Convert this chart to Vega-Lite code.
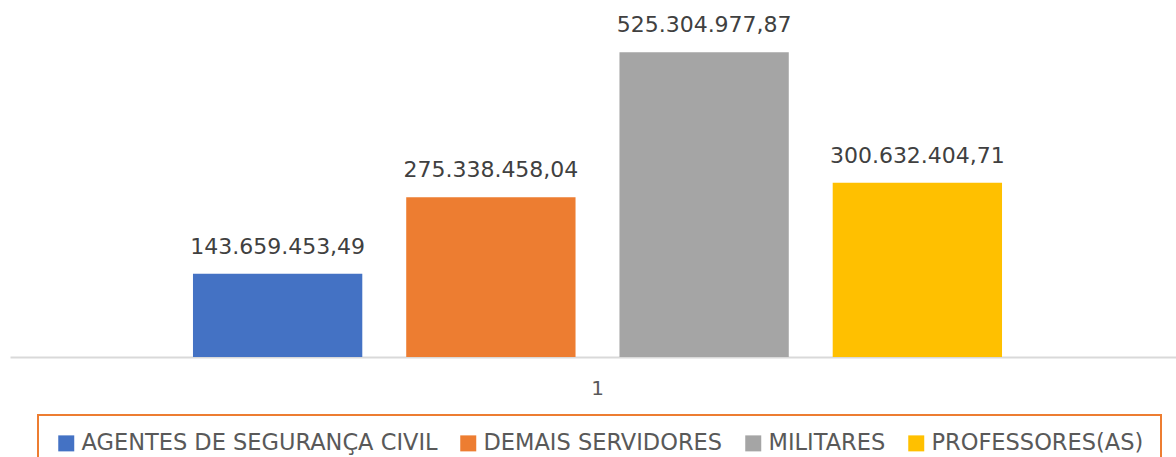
{
  "$schema": "https://vega.github.io/schema/vega-lite/v6.json",
  "autosize": {"type": "none"},
  "width": 1166,
  "height": 348,
  "padding": {"left": 10, "top": 9, "right": 0, "bottom": 100},
  "background": "#ffffff",
  "config": {
    "view": {"stroke": null},
    "font": "DejaVu Sans",
    "locale": {"number": {"decimal": ",", "thousands": ".", "grouping": [3], "currency": ["R$ ", ""]}}
  },
  "data": {
    "values": [
      {"cat": "1", "serie": "AGENTES DE SEGURANÇA CIVIL", "valor": 143659453.49},
      {"cat": "1", "serie": "DEMAIS SERVIDORES", "valor": 275338458.04},
      {"cat": "1", "serie": "MILITARES", "valor": 525304977.87},
      {"cat": "1", "serie": "PROFESSORES(AS)", "valor": 300632404.71}
    ]
  },
  "encoding": {
    "x": {
      "field": "cat", "type": "nominal", "title": null,
      "scale": {"paddingInner": 0, "paddingOuter": 0.2206, "align": 0.5126},
      "axis": {"labelAngle": 0, "ticks": false, "domainColor": "#d9d9d9", "domainWidth": 2, "labelColor": "#595959", "labelFontSize": 20, "labelPadding": 21, "labelFont": "DejaVu Sans"}
    },
    "xOffset": {
      "field": "serie", "type": "nominal",
      "scale": {"paddingInner": 0.206, "paddingOuter": 0}
    },
    "y": {
      "field": "valor", "type": "quantitative",
      "scale": {"domain": [0, 600000000], "nice": false},
      "axis": null
    }
  },
  "layer": [
    {
      "mark": {"type": "bar"},
      "encoding": {
        "color": {
          "field": "serie", "type": "nominal",
          "scale": {"domain": ["AGENTES DE SEGURANÇA CIVIL", "DEMAIS SERVIDORES", "MILITARES", "PROFESSORES(AS)"], "range": ["#4472C4", "#ED7D31", "#A5A5A5", "#FFC000"]},
          "legend": {
            "title": null, "orient": "none", "direction": "horizontal",
            "legendX": 28, "legendY": 406,
            "symbolType": "square", "symbolSize": 256, "symbolStrokeWidth": 0,
            "labelFontSize": 22.5, "labelColor": "#595959", "labelFont": "DejaVu Sans",
            "labelOffset": 4, "columnPadding": 19, "labelLimit": 600,
            "strokeColor": "#ED7D31", "padding": 17,
            "encode": {"legend": {"update": {"strokeWidth": {"value": 2}}}}
          }
        }
      }
    },
    {
      "mark": {"type": "text", "dy": -20, "baseline": "alphabetic", "fontSize": 22, "color": "#404040", "font": "DejaVu Sans"},
      "encoding": {
        "text": {"field": "valor", "type": "quantitative", "format": ",.2f"}
      }
    }
  ]
}
